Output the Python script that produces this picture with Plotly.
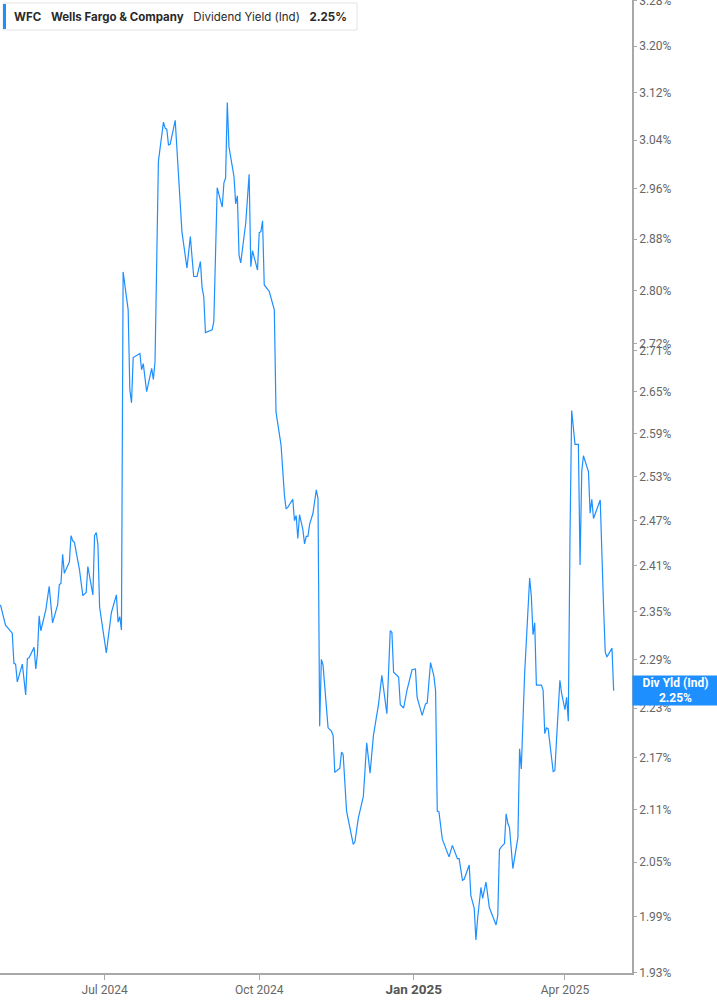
import math
import plotly.graph_objects as go

# ---------------- data ----------------
dates = [
    "2024-04-30", "2024-05-02", "2024-05-03", "2024-05-07", "2024-05-08", "2024-05-09", "2024-05-10",
    "2024-05-13", "2024-05-15", "2024-05-16", "2024-05-17", "2024-05-20", "2024-05-21", "2024-05-22",
    "2024-05-23", "2024-05-24", "2024-05-27", "2024-05-29", "2024-05-31", "2024-06-03", "2024-06-04",
    "2024-06-05", "2024-06-06", "2024-06-07", "2024-06-10", "2024-06-11", "2024-06-12", "2024-06-13",
    "2024-06-16", "2024-06-18", "2024-06-20", "2024-06-21", "2024-06-24", "2024-06-25", "2024-06-26",
    "2024-06-27", "2024-06-28", "2024-07-02", "2024-07-05", "2024-07-08", "2024-07-09", "2024-07-10",
    "2024-07-11", "2024-07-12", "2024-07-15", "2024-07-16", "2024-07-17", "2024-07-18", "2024-07-22",
    "2024-07-23", "2024-07-24", "2024-07-26", "2024-07-29", "2024-07-30", "2024-07-31", "2024-08-02",
    "2024-08-05", "2024-08-06", "2024-08-07", "2024-08-08", "2024-08-09", "2024-08-12", "2024-08-16",
    "2024-08-19", "2024-08-21", "2024-08-23", "2024-08-25", "2024-08-27", "2024-08-28", "2024-08-29",
    "2024-08-30", "2024-09-03", "2024-09-04", "2024-09-06", "2024-09-09", "2024-09-10", "2024-09-11",
    "2024-09-12", "2024-09-13", "2024-09-16", "2024-09-17", "2024-09-18", "2024-09-19", "2024-09-20",
    "2024-09-23", "2024-09-25", "2024-09-26", "2024-09-27", "2024-09-30", "2024-10-01", "2024-10-02",
    "2024-10-03", "2024-10-04", "2024-10-07", "2024-10-08", "2024-10-10", "2024-10-11", "2024-10-14",
    "2024-10-16", "2024-10-17", "2024-10-18", "2024-10-21", "2024-10-22", "2024-10-23", "2024-10-24",
    "2024-10-25", "2024-10-27", "2024-10-28", "2024-10-29", "2024-10-30", "2024-10-31", "2024-11-02",
    "2024-11-04", "2024-11-05", "2024-11-06", "2024-11-07", "2024-11-08", "2024-11-11", "2024-11-13",
    "2024-11-14", "2024-11-15", "2024-11-18", "2024-11-19", "2024-11-20", "2024-11-22", "2024-11-26",
    "2024-11-27", "2024-11-29", "2024-12-02", "2024-12-04", "2024-12-06", "2024-12-08", "2024-12-11",
    "2024-12-13", "2024-12-16", "2024-12-18", "2024-12-19", "2024-12-20", "2024-12-23", "2024-12-24",
    "2024-12-26", "2024-12-28", "2024-12-31", "2025-01-02", "2025-01-03", "2025-01-06", "2025-01-08",
    "2025-01-09", "2025-01-11", "2025-01-13", "2025-01-14", "2025-01-15", "2025-01-16", "2025-01-18",
    "2025-01-22", "2025-01-23", "2025-01-24", "2025-01-27", "2025-01-28", "2025-01-30", "2025-01-31",
    "2025-02-03", "2025-02-04", "2025-02-06", "2025-02-07", "2025-02-08", "2025-02-10", "2025-02-11",
    "2025-02-13", "2025-02-15", "2025-02-19", "2025-02-20", "2025-02-21", "2025-02-22", "2025-02-24",
    "2025-02-25", "2025-02-26", "2025-02-27", "2025-03-01", "2025-03-04", "2025-03-05", "2025-03-06",
    "2025-03-07", "2025-03-08", "2025-03-11", "2025-03-12", "2025-03-13", "2025-03-14", "2025-03-15",
    "2025-03-18", "2025-03-19", "2025-03-20", "2025-03-21", "2025-03-22", "2025-03-25", "2025-03-26",
    "2025-03-27", "2025-03-29", "2025-03-30", "2025-04-01", "2025-04-02", "2025-04-03", "2025-04-04",
    "2025-04-05", "2025-04-07", "2025-04-09", "2025-04-10", "2025-04-11", "2025-04-12", "2025-04-15",
    "2025-04-16", "2025-04-17", "2025-04-18", "2025-04-22", "2025-04-24", "2025-04-25", "2025-04-26",
    "2025-04-29", "2025-04-30",
]

dividend_yield = [
    2.359, 2.340, 2.333, 2.323, 2.285, 2.284, 2.262,
    2.284, 2.246, 2.291, 2.292, 2.305, 2.278, 2.297,
    2.345, 2.326, 2.353, 2.383, 2.336, 2.359, 2.385,
    2.387, 2.425, 2.400, 2.415, 2.450, 2.443, 2.441,
    2.405, 2.371, 2.375, 2.409, 2.372, 2.450, 2.454,
    2.438, 2.356, 2.298, 2.349, 2.372, 2.337, 2.344,
    2.327, 2.829, 2.771, 2.653, 2.634, 2.700, 2.706,
    2.682, 2.691, 2.650, 2.684, 2.668, 2.694, 3.005,
    3.070, 3.060, 3.058, 3.032, 3.033, 3.073, 2.892,
    2.835, 2.884, 2.822, 2.822, 2.845, 2.805, 2.791,
    2.737, 2.741, 2.754, 2.962, 2.931, 2.970, 2.978,
    3.103, 3.029, 2.980, 2.936, 2.949, 2.855, 2.843,
    2.906, 2.984, 2.837, 2.862, 2.832, 2.890, 2.892,
    2.909, 2.809, 2.799, 2.789, 2.771, 2.621, 2.574,
    2.505, 2.486, 2.488, 2.499, 2.470, 2.477, 2.446,
    2.478, 2.458, 2.439, 2.449, 2.449, 2.465, 2.480,
    2.512, 2.500, 2.208, 2.290, 2.283, 2.206, 2.202,
    2.197, 2.153, 2.158, 2.177, 2.174, 2.108, 2.070,
    2.073, 2.100, 2.125, 2.188, 2.152, 2.197, 2.234,
    2.270, 2.223, 2.326, 2.324, 2.274, 2.268, 2.234,
    2.230, 2.252, 2.277, 2.278, 2.243, 2.221, 2.235,
    2.236, 2.286, 2.269, 2.251, 2.108, 2.107, 2.076,
    2.056, 2.064, 2.069, 2.054, 2.054, 2.030, 2.031,
    2.047, 2.013, 1.999, 1.965, 1.988, 2.022, 2.010,
    2.028, 2.000, 1.981, 1.991, 2.064, 2.067, 2.071,
    2.105, 2.094, 2.089, 2.043, 2.078, 2.181, 2.157,
    2.204, 2.272, 2.394, 2.370, 2.321, 2.336, 2.258,
    2.258, 2.252, 2.199, 2.206, 2.205, 2.154, 2.155,
    2.192, 2.264, 2.248, 2.228, 2.243, 2.214, 2.445,
    2.623, 2.575, 2.575, 2.411, 2.537, 2.559, 2.537,
    2.480, 2.499, 2.473, 2.498, 2.356, 2.299, 2.293,
    2.304, 2.251,
]

y_tick_values = [1.93, 1.99, 2.05, 2.11, 2.17, 2.23, 2.29, 2.35, 2.41, 2.47, 2.53,
                 2.59, 2.65, 2.71, 2.72, 2.80, 2.88, 2.96, 3.04, 3.12, 3.20, 3.28]
y_tick_labels = ["1.93%", "1.99%", "2.05%", "2.11%", "2.17%", "2.23%", "2.29%", "2.35%",
                 "2.41%", "2.47%", "2.53%", "2.59%", "2.65%", "2.71%", "2.72%", "2.80%",
                 "2.88%", "2.96%", "3.04%", "3.12%", "3.20%", "3.28%"]
x_tick_values = ["2024-07-01", "2024-10-01", "2025-01-01", "2025-04-01"]
x_tick_labels = ["Jul 2024", "Oct 2024",
                 "<span style='font-size:13.5px;color:#555'><b>Jan 2025</b></span>", "Apr 2025"]

ticker = "WFC"
company = "Wells Fargo & Company"
metric = "Dividend Yield (Ind)"
short_metric = "Div Yld (Ind)"
last_label = "2.25%"

# ---------------- styling ----------------
BLUE = "#1e8fff"
AX = "#a8a8a8"
TXT = "#666666"
FONT = "Roboto"

fig = go.Figure()
fig.add_trace(go.Scatter(
    x=dates, y=dividend_yield, mode="lines",
    line=dict(color=BLUE, width=1.2),
    hoverinfo="skip", showlegend=False,
))

fig.update_layout(
    width=717, height=1005,
    margin=dict(l=0, r=85, t=0, b=32),
    paper_bgcolor="white", plot_bgcolor="white",
    font=dict(family=FONT, size=12, color=TXT),
    showlegend=False,
    xaxis=dict(
        type="date", automargin=False,
        range=["2024-04-29 17:00", "2025-05-10 22:00"],
        tickmode="array", tickvals=x_tick_values, ticktext=x_tick_labels,
        showgrid=False, zeroline=False,
        showline=True, linecolor=AX, linewidth=2,
        ticks="outside", ticklen=5, tickcolor=AX, tickwidth=1,
        tickfont=dict(family=FONT, size=12, color=TXT),
    ),
    yaxis=dict(
        type="log", side="right", automargin=False,
        range=[math.log10(1.9298), math.log10(3.2815)],
        tickmode="array", tickvals=y_tick_values, ticktext=y_tick_labels,
        showgrid=False, zeroline=False,
        showline=True, linecolor=AX, linewidth=1.5,
        ticks="outside", ticklen=3, tickcolor=AX, tickwidth=1,
        ticklabeloverflow="allow",
        tickfont=dict(family=FONT, size=12, color=TXT),
    ),
)

# legend box (top-left)
fig.add_shape(type="rect", xref="paper", yref="paper",
              x0=3 / 632, x1=357 / 632, y0=1 - 30 / 973, y1=1 - 3 / 973,
              line=dict(color="#e3e3e3", width=1), fillcolor="white", layer="above")
fig.add_shape(type="rect", xref="paper", yref="paper",
              x0=3 / 632, x1=6 / 632, y0=1 - 29 / 973, y1=1 - 4 / 973,
              line=dict(width=0), fillcolor=BLUE, layer="above")
sp = "\u00a0" * 3
fig.add_annotation(
    xref="paper", yref="paper", x=12 / 632, y=1 - 16.5 / 973,
    xanchor="left", yanchor="middle", showarrow=False,
    text=f"<b>{ticker}</b>{sp}<b>{company}</b>{sp}{metric}{sp}<b>{last_label}</b>",
    font=dict(family="Inter", size=11.5, color="#2a2a2a"),
)

# last-value label on the right axis
fig.add_annotation(
    xref="paper", yref="y", x=1, y=math.log10(dividend_yield[-1]),
    xanchor="left", yanchor="middle", showarrow=False,
    text=f"<b>{short_metric}</b><br><b>{last_label}</b>",
    font=dict(family=FONT, size=12, color="white"),
    bgcolor=BLUE, width=85, height=29, borderpad=0, align="center",
)

fig.write_html(
    "out.html",
    config={"displayModeBar": False},
    post_script="document.body.style.margin='0';document.body.style.overflow='hidden';",
)
